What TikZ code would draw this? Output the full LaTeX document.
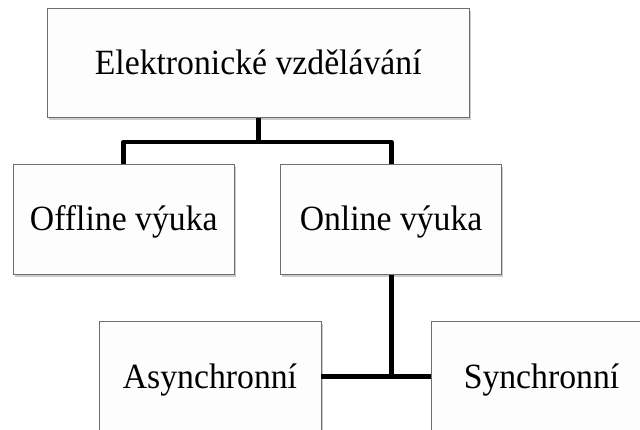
\documentclass[tikz,border=0pt]{standalone}
\usepackage{fontspec}
\setmainfont[FakeStretch=0.95]{Liberation Serif}
\usetikzlibrary{shadows}
\definecolor{boxline}{HTML}{6E6E6E}
\definecolor{boxfill}{HTML}{FDFDFD}
\tikzset{
  orgbox/.style={draw=boxline, line width=0.9pt, fill=boxfill,
    minimum height=110pt, inner sep=0pt,
    text height=23.4pt, text depth=0pt,
    font=\fontsize{35.5}{42}\selectfont,
    drop shadow={shadow xshift=1.5pt, shadow yshift=-2.5pt, fill=black, opacity=0.2}},
  link/.style={draw=black, line width=4.8pt, line join=round}
}
\begin{document}
\begin{tikzpicture}[x=1pt,y=-1pt]
  \clip (0,0) rectangle (640,430);
  \fill[white] (0,0) rectangle (640,430);
  \node[orgbox, minimum width=422pt, minimum height=109pt] (top) at (258.2,62.8) {Elektronické vzdělávání};
  \node[orgbox, minimum width=221pt] (off) at (123.8,219.2) {Offline výuka};
  \node[orgbox, minimum width=221pt] (on) at (391.1,219.2) {Online výuka};
  \node[orgbox, minimum width=222pt] (asyn) at (210,376.7) {Asynchronní};
  \node[orgbox, minimum width=221pt] (syn) at (541.5,376.7) {Synchronní};
  \coordinate (split) at (258.2,142);
  \draw[link] (top.south) -- (split) -| (off.north);
  \draw[link] (split) -| (on.north);
  \draw[link] (on.south) -- (on.south |- asyn.east);
  \draw[link] (asyn.east) -- (syn.west);
\end{tikzpicture}
\end{document}
